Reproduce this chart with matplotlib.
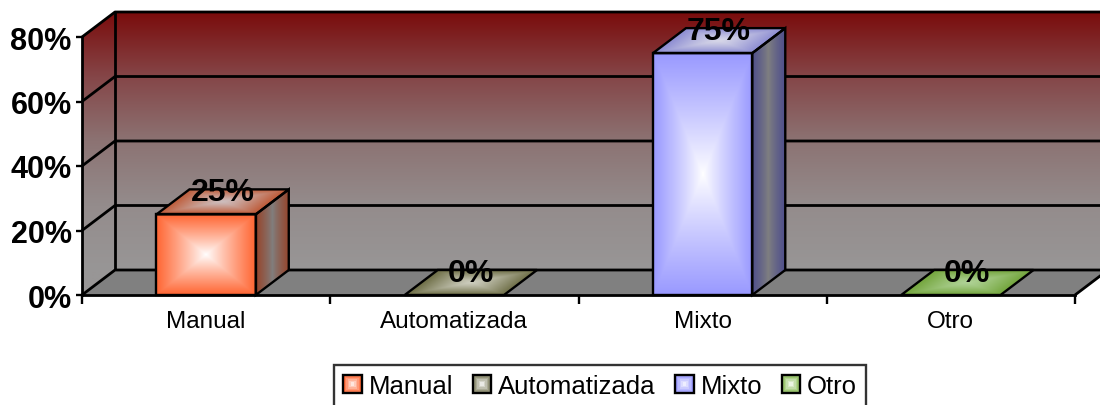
import numpy as np
import matplotlib
matplotlib.use('Agg')
import matplotlib.pyplot as plt
from matplotlib.patches import Polygon, Rectangle
from matplotlib.legend_handler import HandlerBase

# datos
categorias = ['Manual', 'Automatizada', 'Mixto', 'Otro']
valores = [25, 0, 75, 0]
etiquetas = ['25%', '0%', '75%', '0%']
yticks = [0, 20, 40, 60, 80]
ytick_labels = ['0%', '20%', '40%', '60%', '80%']

# colores por categoria (RGB 0-255)
col_frente = [(255, 102, 51), (128, 128, 96), (153, 153, 255), (136, 187, 85)]
col_lado = [(150, 70, 45), (90, 90, 60), (80, 80, 140), (80, 120, 50)]
col_tapa = [(190, 90, 55), (110, 110, 70), (140, 140, 210), (115, 165, 60)]
col_tapa_c = [(205, 190, 190), (205, 205, 190), (215, 215, 232), (175, 210, 150)]

plt.rcParams['font.family'] = ['Liberation Sans', 'DejaVu Sans']

W, H = 1100, 406
fig = plt.figure(figsize=(W / 100, H / 100), dpi=100)
ax = fig.add_axes([0, 0, 1, 1])

# mapeo: x=0 en px 82, x=4 en px 1075 ; y=0 en px 296, y=80 en px 38
px_x = (1075 - 82) / 4
px_y = (296 - 38) / 80
DX = 33 / px_x     # profundidad 3D
DY = 25 / px_y
XMAX = 4 + DX
ANCHO = 0.4


def c(rgb):
    return np.array(rgb, dtype=float) / 255


def mezcla(c1, c2, t):
    return c1 * (1 - t[..., None]) + c2 * t[..., None]


def imagen_recortada(arr, extent, poly, z):
    parche = Polygon(poly, closed=True, facecolor='none', edgecolor='none',
                     transform=ax.transData)
    im = ax.imshow(arr, extent=extent, origin='lower', aspect='auto',
                   interpolation='bilinear', zorder=z)
    im.set_clip_path(parche)
    im.set_clip_on(True)
    return im


# paredes (fondo + lateral izquierda) con degradado rojo -> gris
ny = 300
yy = np.linspace(0, 80 + DY, ny)
f = np.clip((80 + DY - yy) / 80, 0, 1)
paradas = np.array([0, 0.25, 0.5, 0.75, 1.0])
r = np.interp(f, paradas, [122, 133, 140, 148, 152])
g = np.interp(f, paradas, [12, 70, 115, 140, 150])
b = np.interp(f, paradas, [12, 72, 115, 140, 150])
pared = np.stack([r, g, b], axis=-1)[:, None, :] / 255
pared = np.repeat(pared, 2, axis=1)
poly_pared = [(0, 0), (DX, DY), (XMAX, DY), (XMAX, 80 + DY), (DX, 80 + DY), (0, 80)]
imagen_recortada(pared, (0, XMAX, 0, 80 + DY), poly_pared, 1)

# piso
ax.add_patch(Polygon([(0, 0), (4, 0), (4 + DX, DY), (DX, DY)], closed=True,
                     facecolor='#808080', edgecolor='none', zorder=1.2, clip_on=False))

# lineas de cuadricula y bordes
kw = dict(color='black', lw=2, zorder=1.5, clip_on=False, solid_capstyle='butt')
for v in yticks:
    ax.plot([0, DX, XMAX], [v, v + DY, v + DY], **kw)
ax.plot([DX, DX], [DY, 80 + DY], **kw)
ax.plot([4, 4 + DX], [0, DY], **kw)

# barras
for i, v in enumerate(valores):
    x0 = i + 0.5 - ANCHO / 2
    x1 = i + 0.5 + ANCHO / 2
    ek = dict(edgecolor='black', linewidth=1.7, facecolor='none', zorder=4, clip_on=False)
    if v > 0:
        # cara lateral
        n = 60
        xs = np.linspace(0, 1, n)
        t = np.abs(2 * xs - 1)[None, :].repeat(4, axis=0)
        arr = mezcla(c((128, 128, 128)), c(col_lado[i]), t ** 0.8)
        lado = [(x1, 0), (x1 + DX, DY), (x1 + DX, v + DY), (x1, v)]
        imagen_recortada(arr, (x1, x1 + DX, 0, v + DY), lado, 3)
        ax.add_patch(Polygon(lado, closed=True, **ek))
        # cara frontal
        nx, nyf = 80, max(int(80 * v / 25), 40)
        u = np.linspace(-1, 1, nx)[None, :]
        w = np.linspace(-1, 1, nyf)[:, None]
        t = np.maximum(np.abs(u), np.abs(w))
        arr = mezcla(c((255, 255, 255)), c(col_frente[i]), np.clip(t, 0, 1) ** 0.9)
        frente = [(x0, 0), (x1, 0), (x1, v), (x0, v)]
        imagen_recortada(arr, (x0, x1, 0, v), frente, 3)
        ax.add_patch(Polygon(frente, closed=True, **ek))
    # cara superior
    n = 80
    ex0, ex1 = x0, x1 + DX
    xs = np.linspace(ex0, ex1, n)[None, :]
    ys = np.linspace(v, v + DY, 40)[:, None]
    rr = (ys - v) / DY
    s = (xs - x0 - rr * DX) / (x1 - x0)
    t = np.clip(np.maximum(np.abs(2 * s - 1), np.abs(2 * rr - 1)), 0, 1)
    arr = mezcla(c(col_tapa_c[i]), c(col_tapa[i]), t ** 1.2)
    tapa = [(x0, v), (x1, v), (x1 + DX, v + DY), (x0 + DX, v + DY)]
    imagen_recortada(arr, (ex0, ex1, v, v + DY), tapa, 3.5)
    ax.add_patch(Polygon(tapa, closed=True, **ek))
    # etiqueta de dato
    ax.text(i + 0.5 + DX / 2, v + DY / 2 + 0.6, etiquetas[i], ha='center',
            va='baseline', fontsize=23, fontweight='bold', zorder=6)

# ejes
ax.set_xlim(-82 / px_x, (W - 82) / px_x)
ax.set_ylim(-(H - 296) / px_y, 296 / px_y)
ax.patch.set_visible(False)
for lado in ['top', 'right']:
    ax.spines[lado].set_visible(False)
ax.spines['left'].set_position(('data', 0))
ax.spines['left'].set_bounds(0, 80)
ax.spines['bottom'].set_position(('data', 0))
ax.spines['bottom'].set_bounds(0, 4)
for lado in ['left', 'bottom']:
    ax.spines[lado].set_linewidth(2)
    ax.spines[lado].set_zorder(2)

ax.set_yticks(yticks, ytick_labels)
ax.tick_params(axis='y', length=4.5, width=1.7, pad=3, labelsize=22)
for lab in ax.get_yticklabels():
    lab.set_fontweight('bold')
ax.set_xticks(np.arange(len(categorias)) + 0.5, categorias)
ax.set_xticks(np.arange(len(categorias) + 1), minor=True)
ax.tick_params(axis='x', which='major', length=0, pad=10.5, labelsize=17.5)
ax.tick_params(axis='x', which='minor', length=6.5, width=1.7)


class HandlerCuadro(HandlerBase):
    def create_artists(self, legend, orig_handle, xdescent, ydescent,
                       width, height, fontsize, trans):
        lado = height
        x = -xdescent + (width - lado) / 2
        y = -ydescent
        base = np.array(orig_handle.get_facecolor()[:3])
        arts = []
        for k in range(6):
            fr = k / 6
            col = base * (1 - fr) + np.ones(3) * fr
            m = lado * fr / 2
            arts.append(Rectangle((x + m, y + m), lado - 2 * m, lado - 2 * m,
                                  facecolor=col, edgecolor='none', transform=trans))
        arts.append(Rectangle((x, y), lado, lado, facecolor='none',
                              edgecolor='black', linewidth=1.7, transform=trans))
        return arts


handles = [Rectangle((0, 0), 1, 1, facecolor=c(col_frente[i])) for i in range(4)]
leg = fig.legend(handles, categorias, loc='upper center',
                 bbox_to_anchor=(600 / W, 1 - 366 / H), ncol=4, fontsize=18.5,
                 frameon=True, fancybox=False, borderaxespad=0, borderpad=0.35,
                 handlelength=0.75, handleheight=0.75, handletextpad=0.25,
                 columnspacing=0.75,
                 handler_map={Rectangle: HandlerCuadro()})
leg.get_frame().set_edgecolor('black')
leg.get_frame().set_linewidth(1.7)

fig.savefig('out.png', dpi=100)
